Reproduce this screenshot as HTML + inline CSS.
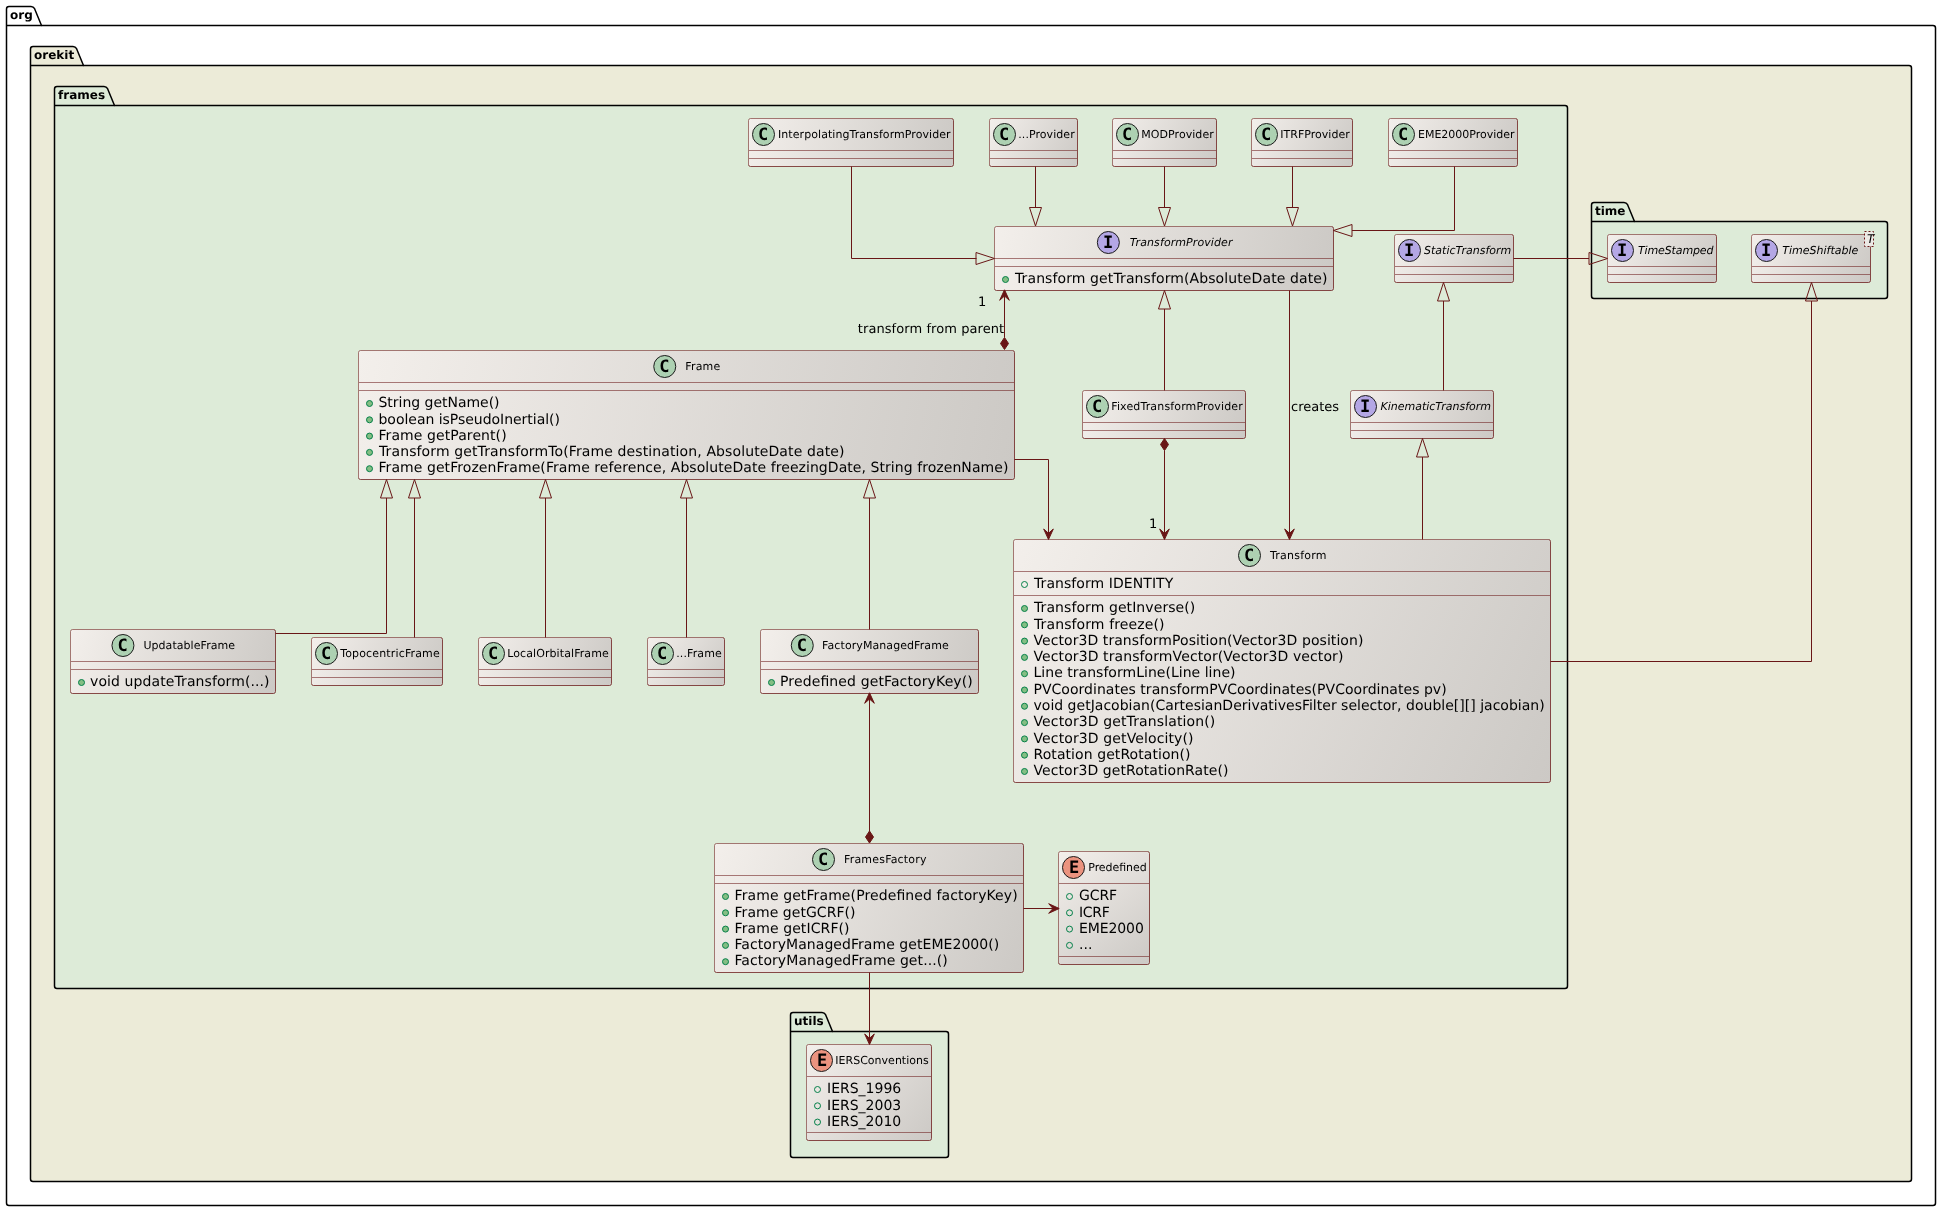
<!DOCTYPE html>
<html lang="en"><head><meta charset="utf-8"><title>org.orekit.frames class diagram</title>
<style>html,body{margin:0;padding:0;background:#fff}body{width:1941px;height:1211px;overflow:hidden}svg{display:block;will-change:transform}</style>
</head><body>
<svg width="1941" height="1211" viewBox="0 0 1941 1211" font-family="'DejaVu Sans','Liberation Sans',sans-serif" fill="#000" text-rendering="geometricPrecision">
<defs>
<linearGradient id="g1" gradientUnits="userSpaceOnUse" x1="748.5" y1="118.5" x2="953.5" y2="166.5"><stop offset="0" stop-color="#F3EFEB"/><stop offset="1" stop-color="#CCC9C5"/></linearGradient>
<linearGradient id="g2" gradientUnits="userSpaceOnUse" x1="989.5" y1="118.5" x2="1077.5" y2="166.5"><stop offset="0" stop-color="#F3EFEB"/><stop offset="1" stop-color="#CCC9C5"/></linearGradient>
<linearGradient id="g3" gradientUnits="userSpaceOnUse" x1="1112.5" y1="118.5" x2="1216.5" y2="166.5"><stop offset="0" stop-color="#F3EFEB"/><stop offset="1" stop-color="#CCC9C5"/></linearGradient>
<linearGradient id="g4" gradientUnits="userSpaceOnUse" x1="1251.5" y1="118.5" x2="1352.5" y2="166.5"><stop offset="0" stop-color="#F3EFEB"/><stop offset="1" stop-color="#CCC9C5"/></linearGradient>
<linearGradient id="g5" gradientUnits="userSpaceOnUse" x1="1388.5" y1="118.5" x2="1517.5" y2="166.5"><stop offset="0" stop-color="#F3EFEB"/><stop offset="1" stop-color="#CCC9C5"/></linearGradient>
<linearGradient id="g6" gradientUnits="userSpaceOnUse" x1="994.5" y1="226.5" x2="1333.5" y2="290.5"><stop offset="0" stop-color="#F3EFEB"/><stop offset="1" stop-color="#CCC9C5"/></linearGradient>
<linearGradient id="g7" gradientUnits="userSpaceOnUse" x1="1394.5" y1="234.5" x2="1513.5" y2="282.5"><stop offset="0" stop-color="#F3EFEB"/><stop offset="1" stop-color="#CCC9C5"/></linearGradient>
<linearGradient id="g8" gradientUnits="userSpaceOnUse" x1="1607.5" y1="234.5" x2="1716.5" y2="282.5"><stop offset="0" stop-color="#F3EFEB"/><stop offset="1" stop-color="#CCC9C5"/></linearGradient>
<linearGradient id="g9" gradientUnits="userSpaceOnUse" x1="1751.5" y1="234.5" x2="1870.5" y2="282.5"><stop offset="0" stop-color="#F3EFEB"/><stop offset="1" stop-color="#CCC9C5"/></linearGradient>
<linearGradient id="g10" gradientUnits="userSpaceOnUse" x1="1082.5" y1="390.5" x2="1245.5" y2="438.5"><stop offset="0" stop-color="#F3EFEB"/><stop offset="1" stop-color="#CCC9C5"/></linearGradient>
<linearGradient id="g11" gradientUnits="userSpaceOnUse" x1="1350.5" y1="390.5" x2="1493.5" y2="438.5"><stop offset="0" stop-color="#F3EFEB"/><stop offset="1" stop-color="#CCC9C5"/></linearGradient>
<linearGradient id="g12" gradientUnits="userSpaceOnUse" x1="358.5" y1="350.5" x2="1014.5" y2="479.5"><stop offset="0" stop-color="#F3EFEB"/><stop offset="1" stop-color="#CCC9C5"/></linearGradient>
<linearGradient id="g13" gradientUnits="userSpaceOnUse" x1="1013.5" y1="539.5" x2="1550.5" y2="782.5"><stop offset="0" stop-color="#F3EFEB"/><stop offset="1" stop-color="#CCC9C5"/></linearGradient>
<linearGradient id="g14" gradientUnits="userSpaceOnUse" x1="70.5" y1="629.5" x2="275.5" y2="693.5"><stop offset="0" stop-color="#F3EFEB"/><stop offset="1" stop-color="#CCC9C5"/></linearGradient>
<linearGradient id="g15" gradientUnits="userSpaceOnUse" x1="311.5" y1="637.5" x2="442.5" y2="685.5"><stop offset="0" stop-color="#F3EFEB"/><stop offset="1" stop-color="#CCC9C5"/></linearGradient>
<linearGradient id="g16" gradientUnits="userSpaceOnUse" x1="478.5" y1="637.5" x2="611.5" y2="685.5"><stop offset="0" stop-color="#F3EFEB"/><stop offset="1" stop-color="#CCC9C5"/></linearGradient>
<linearGradient id="g17" gradientUnits="userSpaceOnUse" x1="647.5" y1="637.5" x2="724.5" y2="685.5"><stop offset="0" stop-color="#F3EFEB"/><stop offset="1" stop-color="#CCC9C5"/></linearGradient>
<linearGradient id="g18" gradientUnits="userSpaceOnUse" x1="760.5" y1="629.5" x2="978.5" y2="693.5"><stop offset="0" stop-color="#F3EFEB"/><stop offset="1" stop-color="#CCC9C5"/></linearGradient>
<linearGradient id="g19" gradientUnits="userSpaceOnUse" x1="714.5" y1="843.5" x2="1023.5" y2="972.5"><stop offset="0" stop-color="#F3EFEB"/><stop offset="1" stop-color="#CCC9C5"/></linearGradient>
<linearGradient id="g20" gradientUnits="userSpaceOnUse" x1="1058.5" y1="851.5" x2="1149.5" y2="964.5"><stop offset="0" stop-color="#F3EFEB"/><stop offset="1" stop-color="#CCC9C5"/></linearGradient>
<linearGradient id="g21" gradientUnits="userSpaceOnUse" x1="806.5" y1="1044.5" x2="931.5" y2="1140.5"><stop offset="0" stop-color="#F3EFEB"/><stop offset="1" stop-color="#CCC9C5"/></linearGradient>
</defs>
<rect width="1941" height="1211" fill="#fff"/>
<path d="M6.5,9.0 Q6.5,6.5 9.0,6.5 L31.0,6.5 Q33.4,6.5 34.6,8.7 L41.5,25.5 L1933.0,25.5 Q1935.5,25.5 1935.5,28.0 L1935.5,1203.0 Q1935.5,1205.5 1933.0,1205.5 L9.0,1205.5 Q6.5,1205.5 6.5,1203.0 Z" fill="#FFFFFF" stroke="#000" stroke-width="1.5"/>
<path d="M6.5,25.5 L41.5,25.5" stroke="#000" stroke-width="1.5" fill="none"/>
<text x="10.0" y="19.0" font-size="12" font-weight="bold">org</text>
<path d="M30.5,49.0 Q30.5,46.5 33.0,46.5 L73.0,46.5 Q75.4,46.5 76.6,48.7 L83.5,65.5 L1909.0,65.5 Q1911.5,65.5 1911.5,68.0 L1911.5,1179.0 Q1911.5,1181.5 1909.0,1181.5 L33.0,1181.5 Q30.5,1181.5 30.5,1179.0 Z" fill="#ECEBD8" stroke="#000" stroke-width="1.5"/>
<path d="M30.5,65.5 L83.5,65.5" stroke="#000" stroke-width="1.5" fill="none"/>
<text x="34.0" y="59.0" font-size="12" font-weight="bold">orekit</text>
<path d="M54.5,89.0 Q54.5,86.5 57.0,86.5 L104.0,86.5 Q106.4,86.5 107.6,88.7 L114.5,105.5 L1565.0,105.5 Q1567.5,105.5 1567.5,108.0 L1567.5,986.0 Q1567.5,988.5 1565.0,988.5 L57.0,988.5 Q54.5,988.5 54.5,986.0 Z" fill="#DDEBD8" stroke="#000" stroke-width="1.5"/>
<path d="M54.5,105.5 L114.5,105.5" stroke="#000" stroke-width="1.5" fill="none"/>
<text x="58.0" y="99.0" font-size="12" font-weight="bold">frames</text>
<path d="M1591.5,205.0 Q1591.5,202.5 1594.0,202.5 L1624.0,202.5 Q1626.4,202.5 1627.6,204.7 L1634.5,221.5 L1885.0,221.5 Q1887.5,221.5 1887.5,224.0 L1887.5,296.0 Q1887.5,298.5 1885.0,298.5 L1594.0,298.5 Q1591.5,298.5 1591.5,296.0 Z" fill="#DDEBD8" stroke="#000" stroke-width="1.5"/>
<path d="M1591.5,221.5 L1634.5,221.5" stroke="#000" stroke-width="1.5" fill="none"/>
<text x="1595.0" y="215.0" font-size="12" font-weight="bold">time</text>
<path d="M790.5,1015.0 Q790.5,1012.5 793.0,1012.5 L822.0,1012.5 Q824.4,1012.5 825.6,1014.7 L832.5,1031.5 L946.0,1031.5 Q948.5,1031.5 948.5,1034.0 L948.5,1155.0 Q948.5,1157.5 946.0,1157.5 L793.0,1157.5 Q790.5,1157.5 790.5,1155.0 Z" fill="#DDEBD8" stroke="#000" stroke-width="1.5"/>
<path d="M790.5,1031.5 L832.5,1031.5" stroke="#000" stroke-width="1.5" fill="none"/>
<text x="794.0" y="1025.0" font-size="12" font-weight="bold">utils</text>
<rect x="748.5" y="118.5" width="205" height="48" rx="2" ry="2" fill="url(#g1)"/>
<path d="M748.5,164.5V120.5Q748.5,118.5 750.5,118.5H951.5" fill="none" stroke="#691616" stroke-opacity="0.55"/>
<path d="M951.5,118.5Q953.5,118.5 953.5,120.5V164.5Q953.5,166.5 951.5,166.5H750.5Q748.5,166.5 748.5,164.5" fill="none" stroke="#691616" stroke-opacity="0.76"/>
<path d="M749.0,150.5H953.0" stroke="#691616" stroke-opacity="0.55"/>
<path d="M749.0,158.5H953.0" stroke="#691616" stroke-opacity="0.55"/>
<circle cx="763.5" cy="134.5" r="11" fill="#ADD1B2" stroke="#1b1b1b"/>
<text x="763.2" y="140.1" font-family="DejaVu Sans Mono,Liberation Mono,monospace" font-weight="bold" font-size="17" text-anchor="middle">C</text>
<text x="778.0" y="138.0" font-size="11" textLength="172.6" lengthAdjust="spacing">InterpolatingTransformProvider</text>
<rect x="989.5" y="118.5" width="88" height="48" rx="2" ry="2" fill="url(#g2)"/>
<path d="M989.5,164.5V120.5Q989.5,118.5 991.5,118.5H1075.5" fill="none" stroke="#691616" stroke-opacity="0.55"/>
<path d="M1075.5,118.5Q1077.5,118.5 1077.5,120.5V164.5Q1077.5,166.5 1075.5,166.5H991.5Q989.5,166.5 989.5,164.5" fill="none" stroke="#691616" stroke-opacity="0.76"/>
<path d="M990.0,150.5H1077.0" stroke="#691616" stroke-opacity="0.55"/>
<path d="M990.0,158.5H1077.0" stroke="#691616" stroke-opacity="0.55"/>
<circle cx="1004.5" cy="134.5" r="11" fill="#ADD1B2" stroke="#1b1b1b"/>
<text x="1004.2" y="140.1" font-family="DejaVu Sans Mono,Liberation Mono,monospace" font-weight="bold" font-size="17" text-anchor="middle">C</text>
<text x="1018.25" y="138.0" font-size="11" textLength="56.5" lengthAdjust="spacing">...Provider</text>
<rect x="1112.5" y="118.5" width="104" height="48" rx="2" ry="2" fill="url(#g3)"/>
<path d="M1112.5,164.5V120.5Q1112.5,118.5 1114.5,118.5H1214.5" fill="none" stroke="#691616" stroke-opacity="0.55"/>
<path d="M1214.5,118.5Q1216.5,118.5 1216.5,120.5V164.5Q1216.5,166.5 1214.5,166.5H1114.5Q1112.5,166.5 1112.5,164.5" fill="none" stroke="#691616" stroke-opacity="0.76"/>
<path d="M1113.0,150.5H1216.0" stroke="#691616" stroke-opacity="0.55"/>
<path d="M1113.0,158.5H1216.0" stroke="#691616" stroke-opacity="0.55"/>
<circle cx="1127.5" cy="134.5" r="11" fill="#ADD1B2" stroke="#1b1b1b"/>
<text x="1127.2" y="140.1" font-family="DejaVu Sans Mono,Liberation Mono,monospace" font-weight="bold" font-size="17" text-anchor="middle">C</text>
<text x="1141.25" y="138.0" font-size="11" textLength="72.5" lengthAdjust="spacing">MODProvider</text>
<rect x="1251.5" y="118.5" width="101" height="48" rx="2" ry="2" fill="url(#g4)"/>
<path d="M1251.5,164.5V120.5Q1251.5,118.5 1253.5,118.5H1350.5" fill="none" stroke="#691616" stroke-opacity="0.55"/>
<path d="M1350.5,118.5Q1352.5,118.5 1352.5,120.5V164.5Q1352.5,166.5 1350.5,166.5H1253.5Q1251.5,166.5 1251.5,164.5" fill="none" stroke="#691616" stroke-opacity="0.76"/>
<path d="M1252.0,150.5H1352.0" stroke="#691616" stroke-opacity="0.55"/>
<path d="M1252.0,158.5H1352.0" stroke="#691616" stroke-opacity="0.55"/>
<circle cx="1266.5" cy="134.5" r="11" fill="#ADD1B2" stroke="#1b1b1b"/>
<text x="1266.2" y="140.1" font-family="DejaVu Sans Mono,Liberation Mono,monospace" font-weight="bold" font-size="17" text-anchor="middle">C</text>
<text x="1280.25" y="138.0" font-size="11" textLength="69.5" lengthAdjust="spacing">ITRFProvider</text>
<rect x="1388.5" y="118.5" width="129" height="48" rx="2" ry="2" fill="url(#g5)"/>
<path d="M1388.5,164.5V120.5Q1388.5,118.5 1390.5,118.5H1515.5" fill="none" stroke="#691616" stroke-opacity="0.55"/>
<path d="M1515.5,118.5Q1517.5,118.5 1517.5,120.5V164.5Q1517.5,166.5 1515.5,166.5H1390.5Q1388.5,166.5 1388.5,164.5" fill="none" stroke="#691616" stroke-opacity="0.76"/>
<path d="M1389.0,150.5H1517.0" stroke="#691616" stroke-opacity="0.55"/>
<path d="M1389.0,158.5H1517.0" stroke="#691616" stroke-opacity="0.55"/>
<circle cx="1403.5" cy="134.5" r="11" fill="#ADD1B2" stroke="#1b1b1b"/>
<text x="1403.2" y="140.1" font-family="DejaVu Sans Mono,Liberation Mono,monospace" font-weight="bold" font-size="17" text-anchor="middle">C</text>
<text x="1418.0" y="138.0" font-size="11" textLength="96.5" lengthAdjust="spacing">EME2000Provider</text>
<rect x="994.5" y="226.5" width="339" height="64" rx="2" ry="2" fill="url(#g6)"/>
<path d="M994.5,288.5V228.5Q994.5,226.5 996.5,226.5H1331.5" fill="none" stroke="#691616" stroke-opacity="0.55"/>
<path d="M1331.5,226.5Q1333.5,226.5 1333.5,228.5V288.5Q1333.5,290.5 1331.5,290.5H996.5Q994.5,290.5 994.5,288.5" fill="none" stroke="#691616" stroke-opacity="0.76"/>
<path d="M995.0,258.5H1333.0" stroke="#691616" stroke-opacity="0.55"/>
<path d="M995.0,266.5H1333.0" stroke="#691616" stroke-opacity="0.55"/>
<circle cx="1108.35" cy="242.5" r="11" fill="#B4A7E5" stroke="#1b1b1b"/>
<text x="1108.05" y="248.1" font-family="DejaVu Sans Mono,Liberation Mono,monospace" font-weight="bold" font-size="17" text-anchor="middle">I</text>
<text x="1129.6499999999999" y="246.0" font-size="11" font-style="italic" textLength="102.8" lengthAdjust="spacing">TransformProvider</text>
<circle cx="1005.5" cy="279.5" r="3" fill="#84BE84" stroke="#038048"/>
<text x="1015.0" y="283.2" font-size="14" textLength="312.46" lengthAdjust="spacing">Transform getTransform(AbsoluteDate date)</text>
<rect x="1394.5" y="234.5" width="119" height="48" rx="2" ry="2" fill="url(#g7)"/>
<path d="M1394.5,280.5V236.5Q1394.5,234.5 1396.5,234.5H1511.5" fill="none" stroke="#691616" stroke-opacity="0.55"/>
<path d="M1511.5,234.5Q1513.5,234.5 1513.5,236.5V280.5Q1513.5,282.5 1511.5,282.5H1396.5Q1394.5,282.5 1394.5,280.5" fill="none" stroke="#691616" stroke-opacity="0.76"/>
<path d="M1395.0,266.5H1513.0" stroke="#691616" stroke-opacity="0.55"/>
<path d="M1395.0,274.5H1513.0" stroke="#691616" stroke-opacity="0.55"/>
<circle cx="1409.5" cy="250.5" r="11" fill="#B4A7E5" stroke="#1b1b1b"/>
<text x="1409.2" y="256.1" font-family="DejaVu Sans Mono,Liberation Mono,monospace" font-weight="bold" font-size="17" text-anchor="middle">I</text>
<text x="1424.0" y="254.0" font-size="11" font-style="italic" textLength="87.25" lengthAdjust="spacing">StaticTransform</text>
<rect x="1607.5" y="234.5" width="109" height="48" rx="2" ry="2" fill="url(#g8)"/>
<path d="M1607.5,280.5V236.5Q1607.5,234.5 1609.5,234.5H1714.5" fill="none" stroke="#691616" stroke-opacity="0.55"/>
<path d="M1714.5,234.5Q1716.5,234.5 1716.5,236.5V280.5Q1716.5,282.5 1714.5,282.5H1609.5Q1607.5,282.5 1607.5,280.5" fill="none" stroke="#691616" stroke-opacity="0.76"/>
<path d="M1608.0,266.5H1716.0" stroke="#691616" stroke-opacity="0.55"/>
<path d="M1608.0,274.5H1716.0" stroke="#691616" stroke-opacity="0.55"/>
<circle cx="1622.5" cy="250.5" r="11" fill="#B4A7E5" stroke="#1b1b1b"/>
<text x="1622.2" y="256.1" font-family="DejaVu Sans Mono,Liberation Mono,monospace" font-weight="bold" font-size="17" text-anchor="middle">I</text>
<text x="1638.0" y="254.0" font-size="11" font-style="italic" textLength="75.5" lengthAdjust="spacing">TimeStamped</text>
<rect x="1751.5" y="234.5" width="119" height="48" rx="2" ry="2" fill="url(#g9)"/>
<path d="M1751.5,280.5V236.5Q1751.5,234.5 1753.5,234.5H1868.5" fill="none" stroke="#691616" stroke-opacity="0.55"/>
<path d="M1868.5,234.5Q1870.5,234.5 1870.5,236.5V280.5Q1870.5,282.5 1868.5,282.5H1753.5Q1751.5,282.5 1751.5,280.5" fill="none" stroke="#691616" stroke-opacity="0.76"/>
<path d="M1752.0,266.5H1870.0" stroke="#691616" stroke-opacity="0.55"/>
<path d="M1752.0,274.5H1870.0" stroke="#691616" stroke-opacity="0.55"/>
<circle cx="1766.5" cy="250.5" r="11" fill="#B4A7E5" stroke="#1b1b1b"/>
<text x="1766.2" y="256.1" font-family="DejaVu Sans Mono,Liberation Mono,monospace" font-weight="bold" font-size="17" text-anchor="middle">I</text>
<text x="1782.3" y="254.0" font-size="11" font-style="italic">TimeShiftable</text>
<rect x="1864.5" y="231.5" width="9" height="15" fill="#ECE9E5" stroke="#691616" stroke-dasharray="2,2"/>
<text x="1867.0" y="243.0" font-size="12" font-style="italic">T</text>
<rect x="1082.5" y="390.5" width="163" height="48" rx="2" ry="2" fill="url(#g10)"/>
<path d="M1082.5,436.5V392.5Q1082.5,390.5 1084.5,390.5H1243.5" fill="none" stroke="#691616" stroke-opacity="0.55"/>
<path d="M1243.5,390.5Q1245.5,390.5 1245.5,392.5V436.5Q1245.5,438.5 1243.5,438.5H1084.5Q1082.5,438.5 1082.5,436.5" fill="none" stroke="#691616" stroke-opacity="0.76"/>
<path d="M1083.0,422.5H1245.0" stroke="#691616" stroke-opacity="0.55"/>
<path d="M1083.0,430.5H1245.0" stroke="#691616" stroke-opacity="0.55"/>
<circle cx="1097.5" cy="406.5" r="11" fill="#ADD1B2" stroke="#1b1b1b"/>
<text x="1097.2" y="412.1" font-family="DejaVu Sans Mono,Liberation Mono,monospace" font-weight="bold" font-size="17" text-anchor="middle">C</text>
<text x="1111.25" y="410.0" font-size="11" textLength="131.5" lengthAdjust="spacing">FixedTransformProvider</text>
<rect x="1350.5" y="390.5" width="143" height="48" rx="2" ry="2" fill="url(#g11)"/>
<path d="M1350.5,436.5V392.5Q1350.5,390.5 1352.5,390.5H1491.5" fill="none" stroke="#691616" stroke-opacity="0.55"/>
<path d="M1491.5,390.5Q1493.5,390.5 1493.5,392.5V436.5Q1493.5,438.5 1491.5,438.5H1352.5Q1350.5,438.5 1350.5,436.5" fill="none" stroke="#691616" stroke-opacity="0.76"/>
<path d="M1351.0,422.5H1493.0" stroke="#691616" stroke-opacity="0.55"/>
<path d="M1351.0,430.5H1493.0" stroke="#691616" stroke-opacity="0.55"/>
<circle cx="1365.5" cy="406.5" r="11" fill="#B4A7E5" stroke="#1b1b1b"/>
<text x="1365.2" y="412.1" font-family="DejaVu Sans Mono,Liberation Mono,monospace" font-weight="bold" font-size="17" text-anchor="middle">I</text>
<text x="1380.5" y="410.0" font-size="11" font-style="italic" textLength="110.5" lengthAdjust="spacing">KinematicTransform</text>
<rect x="358.5" y="350.5" width="656" height="129" rx="2" ry="2" fill="url(#g12)"/>
<path d="M358.5,477.5V352.5Q358.5,350.5 360.5,350.5H1012.5" fill="none" stroke="#691616" stroke-opacity="0.55"/>
<path d="M1012.5,350.5Q1014.5,350.5 1014.5,352.5V477.5Q1014.5,479.5 1012.5,479.5H360.5Q358.5,479.5 358.5,477.5" fill="none" stroke="#691616" stroke-opacity="0.76"/>
<path d="M359.0,382.5H1014.0" stroke="#691616" stroke-opacity="0.55"/>
<path d="M359.0,390.5H1014.0" stroke="#691616" stroke-opacity="0.55"/>
<circle cx="664.75" cy="366.5" r="11" fill="#ADD1B2" stroke="#1b1b1b"/>
<text x="664.45" y="372.1" font-family="DejaVu Sans Mono,Liberation Mono,monospace" font-weight="bold" font-size="17" text-anchor="middle">C</text>
<text x="685.25" y="370.0" font-size="11" textLength="35" lengthAdjust="spacing">Frame</text>
<circle cx="369.5" cy="403.5" r="3" fill="#84BE84" stroke="#038048"/>
<text x="378.5" y="407.2" font-size="14" textLength="121.05" lengthAdjust="spacing">String getName()</text>
<circle cx="369.5" cy="419.8" r="3" fill="#84BE84" stroke="#038048"/>
<text x="378.5" y="423.5" font-size="14" textLength="181.48" lengthAdjust="spacing">boolean isPseudoInertial()</text>
<circle cx="369.5" cy="436.09" r="3" fill="#84BE84" stroke="#038048"/>
<text x="378.5" y="439.79" font-size="14" textLength="128.11" lengthAdjust="spacing">Frame getParent()</text>
<circle cx="369.5" cy="452.39" r="3" fill="#84BE84" stroke="#038048"/>
<text x="379.0" y="456.09" font-size="14" textLength="465.47" lengthAdjust="spacing">Transform getTransformTo(Frame destination, AbsoluteDate date)</text>
<circle cx="369.5" cy="468.69" r="3" fill="#84BE84" stroke="#038048"/>
<text x="378.5" y="472.39" font-size="14" textLength="629.9" lengthAdjust="spacing">Frame getFrozenFrame(Frame reference, AbsoluteDate freezingDate, String frozenName)</text>
<rect x="1013.5" y="539.5" width="537" height="243" rx="2" ry="2" fill="url(#g13)"/>
<path d="M1013.5,780.5V541.5Q1013.5,539.5 1015.5,539.5H1548.5" fill="none" stroke="#691616" stroke-opacity="0.55"/>
<path d="M1548.5,539.5Q1550.5,539.5 1550.5,541.5V780.5Q1550.5,782.5 1548.5,782.5H1015.5Q1013.5,782.5 1013.5,780.5" fill="none" stroke="#691616" stroke-opacity="0.76"/>
<path d="M1014.0,571.5H1550.0" stroke="#691616" stroke-opacity="0.55"/>
<path d="M1014.0,595.5H1550.0" stroke="#691616" stroke-opacity="0.55"/>
<circle cx="1249.5" cy="555.5" r="11" fill="#ADD1B2" stroke="#1b1b1b"/>
<text x="1249.2" y="561.1" font-family="DejaVu Sans Mono,Liberation Mono,monospace" font-weight="bold" font-size="17" text-anchor="middle">C</text>
<text x="1270.0" y="559.0" font-size="11" textLength="56.5" lengthAdjust="spacing">Transform</text>
<circle cx="1024.5" cy="584.5" r="3" fill="none" stroke="#038048"/>
<text x="1034.0" y="588.2" font-size="14" textLength="139.3" lengthAdjust="spacing">Transform IDENTITY</text>
<circle cx="1024.5" cy="608.5" r="3" fill="#84BE84" stroke="#038048"/>
<text x="1034.0" y="612.2" font-size="14" textLength="161.32" lengthAdjust="spacing">Transform getInverse()</text>
<circle cx="1024.5" cy="624.8" r="3" fill="#84BE84" stroke="#038048"/>
<text x="1034.0" y="628.5" font-size="14" textLength="130.43" lengthAdjust="spacing">Transform freeze()</text>
<circle cx="1024.5" cy="641.09" r="3" fill="#84BE84" stroke="#038048"/>
<text x="1033.5" y="644.79" font-size="14" textLength="329.87" lengthAdjust="spacing">Vector3D transformPosition(Vector3D position)</text>
<circle cx="1024.5" cy="657.39" r="3" fill="#84BE84" stroke="#038048"/>
<text x="1033.5" y="661.09" font-size="14" textLength="309.93" lengthAdjust="spacing">Vector3D transformVector(Vector3D vector)</text>
<circle cx="1024.5" cy="673.69" r="3" fill="#84BE84" stroke="#038048"/>
<text x="1033.5" y="677.39" font-size="14" textLength="202.0" lengthAdjust="spacing">Line transformLine(Line line)</text>
<circle cx="1024.5" cy="689.99" r="3" fill="#84BE84" stroke="#038048"/>
<text x="1033.5" y="693.69" font-size="14" textLength="413.12" lengthAdjust="spacing">PVCoordinates transformPVCoordinates(PVCoordinates pv)</text>
<circle cx="1024.5" cy="706.28" r="3" fill="#84BE84" stroke="#038048"/>
<text x="1033.5" y="709.98" font-size="14" textLength="511.14" lengthAdjust="spacing">void getJacobian(CartesianDerivativesFilter selector, double[][] jacobian)</text>
<circle cx="1024.5" cy="722.58" r="3" fill="#84BE84" stroke="#038048"/>
<text x="1033.5" y="726.28" font-size="14" textLength="181.7" lengthAdjust="spacing">Vector3D getTranslation()</text>
<circle cx="1024.5" cy="738.88" r="3" fill="#84BE84" stroke="#038048"/>
<text x="1033.5" y="742.58" font-size="14" textLength="160.03" lengthAdjust="spacing">Vector3D getVelocity()</text>
<circle cx="1024.5" cy="755.17" r="3" fill="#84BE84" stroke="#038048"/>
<text x="1033.5" y="758.87" font-size="14" textLength="157.07" lengthAdjust="spacing">Rotation getRotation()</text>
<circle cx="1024.5" cy="771.47" r="3" fill="#84BE84" stroke="#038048"/>
<text x="1033.5" y="775.17" font-size="14" textLength="194.92" lengthAdjust="spacing">Vector3D getRotationRate()</text>
<rect x="70.5" y="629.5" width="205" height="64" rx="2" ry="2" fill="url(#g14)"/>
<path d="M70.5,691.5V631.5Q70.5,629.5 72.5,629.5H273.5" fill="none" stroke="#691616" stroke-opacity="0.55"/>
<path d="M273.5,629.5Q275.5,629.5 275.5,631.5V691.5Q275.5,693.5 273.5,693.5H72.5Q70.5,693.5 70.5,691.5" fill="none" stroke="#691616" stroke-opacity="0.76"/>
<path d="M71.0,661.5H275.0" stroke="#691616" stroke-opacity="0.55"/>
<path d="M71.0,669.5H275.0" stroke="#691616" stroke-opacity="0.55"/>
<circle cx="122.95" cy="645.5" r="11" fill="#ADD1B2" stroke="#1b1b1b"/>
<text x="122.65" y="651.1" font-family="DejaVu Sans Mono,Liberation Mono,monospace" font-weight="bold" font-size="17" text-anchor="middle">C</text>
<text x="143.45" y="649.0" font-size="11" textLength="91.6" lengthAdjust="spacing">UpdatableFrame</text>
<circle cx="81.5" cy="682.5" r="3" fill="#84BE84" stroke="#038048"/>
<text x="90.0" y="686.2" font-size="14" textLength="179.57" lengthAdjust="spacing">void updateTransform(...)</text>
<rect x="311.5" y="637.5" width="131" height="48" rx="2" ry="2" fill="url(#g15)"/>
<path d="M311.5,683.5V639.5Q311.5,637.5 313.5,637.5H440.5" fill="none" stroke="#691616" stroke-opacity="0.55"/>
<path d="M440.5,637.5Q442.5,637.5 442.5,639.5V683.5Q442.5,685.5 440.5,685.5H313.5Q311.5,685.5 311.5,683.5" fill="none" stroke="#691616" stroke-opacity="0.76"/>
<path d="M312.0,669.5H442.0" stroke="#691616" stroke-opacity="0.55"/>
<path d="M312.0,677.5H442.0" stroke="#691616" stroke-opacity="0.55"/>
<circle cx="326.5" cy="653.5" r="11" fill="#ADD1B2" stroke="#1b1b1b"/>
<text x="326.2" y="659.1" font-family="DejaVu Sans Mono,Liberation Mono,monospace" font-weight="bold" font-size="17" text-anchor="middle">C</text>
<text x="340.25" y="657.0" font-size="11" textLength="99.5" lengthAdjust="spacing">TopocentricFrame</text>
<rect x="478.5" y="637.5" width="133" height="48" rx="2" ry="2" fill="url(#g16)"/>
<path d="M478.5,683.5V639.5Q478.5,637.5 480.5,637.5H609.5" fill="none" stroke="#691616" stroke-opacity="0.55"/>
<path d="M609.5,637.5Q611.5,637.5 611.5,639.5V683.5Q611.5,685.5 609.5,685.5H480.5Q478.5,685.5 478.5,683.5" fill="none" stroke="#691616" stroke-opacity="0.76"/>
<path d="M479.0,669.5H611.0" stroke="#691616" stroke-opacity="0.55"/>
<path d="M479.0,677.5H611.0" stroke="#691616" stroke-opacity="0.55"/>
<circle cx="493.5" cy="653.5" r="11" fill="#ADD1B2" stroke="#1b1b1b"/>
<text x="493.2" y="659.1" font-family="DejaVu Sans Mono,Liberation Mono,monospace" font-weight="bold" font-size="17" text-anchor="middle">C</text>
<text x="507.25" y="657.0" font-size="11" textLength="101.5" lengthAdjust="spacing">LocalOrbitalFrame</text>
<rect x="647.5" y="637.5" width="77" height="48" rx="2" ry="2" fill="url(#g17)"/>
<path d="M647.5,683.5V639.5Q647.5,637.5 649.5,637.5H722.5" fill="none" stroke="#691616" stroke-opacity="0.55"/>
<path d="M722.5,637.5Q724.5,637.5 724.5,639.5V683.5Q724.5,685.5 722.5,685.5H649.5Q647.5,685.5 647.5,683.5" fill="none" stroke="#691616" stroke-opacity="0.76"/>
<path d="M648.0,669.5H724.0" stroke="#691616" stroke-opacity="0.55"/>
<path d="M648.0,677.5H724.0" stroke="#691616" stroke-opacity="0.55"/>
<circle cx="662.5" cy="653.5" r="11" fill="#ADD1B2" stroke="#1b1b1b"/>
<text x="662.2" y="659.1" font-family="DejaVu Sans Mono,Liberation Mono,monospace" font-weight="bold" font-size="17" text-anchor="middle">C</text>
<text x="676.25" y="657.0" font-size="11" textLength="45.5" lengthAdjust="spacing">...Frame</text>
<rect x="760.5" y="629.5" width="218" height="64" rx="2" ry="2" fill="url(#g18)"/>
<path d="M760.5,691.5V631.5Q760.5,629.5 762.5,629.5H976.5" fill="none" stroke="#691616" stroke-opacity="0.55"/>
<path d="M976.5,629.5Q978.5,629.5 978.5,631.5V691.5Q978.5,693.5 976.5,693.5H762.5Q760.5,693.5 760.5,691.5" fill="none" stroke="#691616" stroke-opacity="0.76"/>
<path d="M761.0,661.5H978.0" stroke="#691616" stroke-opacity="0.55"/>
<path d="M761.0,669.5H978.0" stroke="#691616" stroke-opacity="0.55"/>
<circle cx="802.28" cy="645.5" r="11" fill="#ADD1B2" stroke="#1b1b1b"/>
<text x="801.98" y="651.1" font-family="DejaVu Sans Mono,Liberation Mono,monospace" font-weight="bold" font-size="17" text-anchor="middle">C</text>
<text x="822.12" y="649.0" font-size="11" textLength="126.6" lengthAdjust="spacing">FactoryManagedFrame</text>
<circle cx="771.5" cy="682.5" r="3" fill="#84BE84" stroke="#038048"/>
<text x="780.0" y="686.2" font-size="14" textLength="192.84" lengthAdjust="spacing">Predefined getFactoryKey()</text>
<rect x="714.5" y="843.5" width="309" height="129" rx="2" ry="2" fill="url(#g19)"/>
<path d="M714.5,970.5V845.5Q714.5,843.5 716.5,843.5H1021.5" fill="none" stroke="#691616" stroke-opacity="0.55"/>
<path d="M1021.5,843.5Q1023.5,843.5 1023.5,845.5V970.5Q1023.5,972.5 1021.5,972.5H716.5Q714.5,972.5 714.5,970.5" fill="none" stroke="#691616" stroke-opacity="0.76"/>
<path d="M715.0,875.5H1023.0" stroke="#691616" stroke-opacity="0.55"/>
<path d="M715.0,883.5H1023.0" stroke="#691616" stroke-opacity="0.55"/>
<circle cx="823.5" cy="859.5" r="11" fill="#ADD1B2" stroke="#1b1b1b"/>
<text x="823.2" y="865.1" font-family="DejaVu Sans Mono,Liberation Mono,monospace" font-weight="bold" font-size="17" text-anchor="middle">C</text>
<text x="844.0" y="863.0" font-size="11" textLength="82.5" lengthAdjust="spacing">FramesFactory</text>
<circle cx="725.5" cy="896.5" r="3" fill="#84BE84" stroke="#038048"/>
<text x="734.5" y="900.2" font-size="14" textLength="283.19" lengthAdjust="spacing">Frame getFrame(Predefined factoryKey)</text>
<circle cx="725.5" cy="912.8" r="3" fill="#84BE84" stroke="#038048"/>
<text x="734.5" y="916.5" font-size="14" textLength="121.04" lengthAdjust="spacing">Frame getGCRF()</text>
<circle cx="725.5" cy="929.09" r="3" fill="#84BE84" stroke="#038048"/>
<text x="734.5" y="932.79" font-size="14" textLength="115.07" lengthAdjust="spacing">Frame getICRF()</text>
<circle cx="725.5" cy="945.39" r="3" fill="#84BE84" stroke="#038048"/>
<text x="734.5" y="949.09" font-size="14" textLength="264.78" lengthAdjust="spacing">FactoryManagedFrame getEME2000()</text>
<circle cx="725.5" cy="961.69" r="3" fill="#84BE84" stroke="#038048"/>
<text x="734.5" y="965.39" font-size="14" textLength="213.23" lengthAdjust="spacing">FactoryManagedFrame get...()</text>
<rect x="1058.5" y="851.5" width="91" height="113" rx="2" ry="2" fill="url(#g20)"/>
<path d="M1058.5,962.5V853.5Q1058.5,851.5 1060.5,851.5H1147.5" fill="none" stroke="#691616" stroke-opacity="0.55"/>
<path d="M1147.5,851.5Q1149.5,851.5 1149.5,853.5V962.5Q1149.5,964.5 1147.5,964.5H1060.5Q1058.5,964.5 1058.5,962.5" fill="none" stroke="#691616" stroke-opacity="0.76"/>
<path d="M1059.0,883.5H1149.0" stroke="#691616" stroke-opacity="0.55"/>
<path d="M1059.0,956.5H1149.0" stroke="#691616" stroke-opacity="0.55"/>
<circle cx="1073.5" cy="867.5" r="11" fill="#EB937F" stroke="#1b1b1b"/>
<text x="1074.2" y="873.1" font-family="DejaVu Sans Mono,Liberation Mono,monospace" font-weight="bold" font-size="17" text-anchor="middle">E</text>
<text x="1088.25" y="871.0" font-size="11" textLength="58.5" lengthAdjust="spacing">Predefined</text>
<circle cx="1069.5" cy="896.5" r="3" fill="none" stroke="#038048"/>
<text x="1079.0" y="900.2" font-size="14" textLength="38.16" lengthAdjust="spacing">GCRF</text>
<circle cx="1069.5" cy="912.8" r="3" fill="none" stroke="#038048"/>
<text x="1079.0" y="916.5" font-size="14" textLength="30.69" lengthAdjust="spacing">ICRF</text>
<circle cx="1069.5" cy="929.09" r="3" fill="none" stroke="#038048"/>
<text x="1079.0" y="932.79" font-size="14" textLength="64.8" lengthAdjust="spacing">EME2000</text>
<circle cx="1069.5" cy="945.39" r="3" fill="none" stroke="#038048"/>
<text x="1079.0" y="949.09" font-size="14">...</text>
<rect x="806.5" y="1044.5" width="125" height="96" rx="2" ry="2" fill="url(#g21)"/>
<path d="M806.5,1138.5V1046.5Q806.5,1044.5 808.5,1044.5H929.5" fill="none" stroke="#691616" stroke-opacity="0.55"/>
<path d="M929.5,1044.5Q931.5,1044.5 931.5,1046.5V1138.5Q931.5,1140.5 929.5,1140.5H808.5Q806.5,1140.5 806.5,1138.5" fill="none" stroke="#691616" stroke-opacity="0.76"/>
<path d="M807.0,1076.5H931.0" stroke="#691616" stroke-opacity="0.55"/>
<path d="M807.0,1132.5H931.0" stroke="#691616" stroke-opacity="0.55"/>
<circle cx="821.5" cy="1060.5" r="11" fill="#EB937F" stroke="#1b1b1b"/>
<text x="822.2" y="1066.1" font-family="DejaVu Sans Mono,Liberation Mono,monospace" font-weight="bold" font-size="17" text-anchor="middle">E</text>
<text x="835.25" y="1064.0" font-size="11" textLength="93.5" lengthAdjust="spacing">IERSConventions</text>
<circle cx="817.5" cy="1089.5" r="3" fill="none" stroke="#038048"/>
<text x="827.0" y="1093.2" font-size="14">IERS_1996</text>
<circle cx="817.5" cy="1105.8" r="3" fill="none" stroke="#038048"/>
<text x="827.0" y="1109.5" font-size="14">IERS_2003</text>
<circle cx="817.5" cy="1122.09" r="3" fill="none" stroke="#038048"/>
<text x="827.0" y="1125.79" font-size="14">IERS_2010</text>
<path d="M851.5,166.5V258.5H976.5" fill="none" stroke="#691616"/>
<polygon points="994.5,258.5 976.0,252.5 976.0,264.5" fill="none" stroke="#691616"/>
<path d="M1035.5,166.5V207.5" fill="none" stroke="#691616"/>
<polygon points="1035.5,226 1029.5,207.5 1041.5,207.5" fill="none" stroke="#691616"/>
<path d="M1164.5,166.5V207.5" fill="none" stroke="#691616"/>
<polygon points="1164.5,226 1158.5,207.5 1170.5,207.5" fill="none" stroke="#691616"/>
<path d="M1292.5,166.5V207.5" fill="none" stroke="#691616"/>
<polygon points="1292.5,226 1286.5,207.5 1298.5,207.5" fill="none" stroke="#691616"/>
<path d="M1454.5,166.5V230.5H1352" fill="none" stroke="#691616"/>
<polygon points="1333.5,230.5 1352.0,224.5 1352.0,236.5" fill="none" stroke="#691616"/>
<polygon points="1004.5,337.5 1008.5,343.5 1004.5,349.5 1000.5,343.5" fill="#691616" stroke="#691616"/>
<path d="M1004.5,337.5V291" fill="none" stroke="#691616"/>
<polygon points="1004.5,289.8 1009.3,300.3 1004.5,296.0 999.7,300.3" fill="#691616" stroke="#691616"/>
<path d="M1164.5,390.5V309" fill="none" stroke="#691616"/>
<polygon points="1164.5,290.5 1158.5,309.0 1170.5,309.0" fill="none" stroke="#691616"/>
<path d="M1289.5,290.5V539" fill="none" stroke="#691616"/>
<polygon points="1289.5,539.5 1294.3,529.0 1289.5,533.3 1284.7,529.0" fill="#691616" stroke="#691616"/>
<path d="M1513.5,258.5H1589" fill="none" stroke="#691616"/>
<polygon points="1607.5,258.5 1589.0,252.5 1589.0,264.5" fill="none" stroke="#691616"/>
<path d="M1443.5,390.5V301" fill="none" stroke="#691616"/>
<polygon points="1443.5,282.5 1437.5,301.0 1449.5,301.0" fill="none" stroke="#691616"/>
<path d="M1422.5,539.5V457" fill="none" stroke="#691616"/>
<polygon points="1422.5,438.5 1416.5,457.0 1428.5,457.0" fill="none" stroke="#691616"/>
<path d="M1550.5,661.5H1811.5V301" fill="none" stroke="#691616"/>
<polygon points="1811.5,282.5 1805.5,301.0 1817.5,301.0" fill="none" stroke="#691616"/>
<path d="M1014.5,459.5H1048.5V539" fill="none" stroke="#691616"/>
<polygon points="1048.5,539.5 1053.3,529.0 1048.5,533.3 1043.7,529.0" fill="#691616" stroke="#691616"/>
<polygon points="1164.5,438.5 1168.5,444.5 1164.5,450.5 1160.5,444.5" fill="#691616" stroke="#691616"/>
<path d="M1164.5,450.5V539" fill="none" stroke="#691616"/>
<polygon points="1164.5,539.5 1169.3,529.0 1164.5,533.3 1159.7,529.0" fill="#691616" stroke="#691616"/>
<path d="M275.5,633.5H386.5V498" fill="none" stroke="#691616"/>
<polygon points="386.5,479.5 380.5,498.0 392.5,498.0" fill="none" stroke="#691616"/>
<path d="M414.5,637.5V498" fill="none" stroke="#691616"/>
<polygon points="414.5,479.5 408.5,498.0 420.5,498.0" fill="none" stroke="#691616"/>
<path d="M545.5,637.5V498" fill="none" stroke="#691616"/>
<polygon points="545.5,479.5 539.5,498.0 551.5,498.0" fill="none" stroke="#691616"/>
<path d="M686.5,637.5V498" fill="none" stroke="#691616"/>
<polygon points="686.5,479.5 680.5,498.0 692.5,498.0" fill="none" stroke="#691616"/>
<path d="M869.5,629.5V498" fill="none" stroke="#691616"/>
<polygon points="869.5,479.5 863.5,498.0 875.5,498.0" fill="none" stroke="#691616"/>
<polygon points="869.5,831 873.5,837 869.5,843 865.5,837" fill="#691616" stroke="#691616"/>
<path d="M869.5,831V694" fill="none" stroke="#691616"/>
<polygon points="869.5,692.8 874.3,703.3 869.5,699.0 864.7,703.3" fill="#691616" stroke="#691616"/>
<path d="M1023.5,908.5H1058" fill="none" stroke="#691616"/>
<polygon points="1059.2,908.5 1048.7,903.7 1053.0,908.5 1048.7,913.3" fill="#691616" stroke="#691616"/>
<path d="M869.5,972.5V1044" fill="none" stroke="#691616"/>
<polygon points="869.5,1044.5 874.3,1034.0 869.5,1038.3 864.7,1034.0" fill="#691616" stroke="#691616"/>
<text x="978" y="306" font-size="13">1</text>
<text x="857.8" y="333" font-size="13" textLength="146.4" lengthAdjust="spacing">transform from parent</text>
<text x="1291.1" y="411" font-size="13">creates</text>
<text x="1149.1" y="528" font-size="13">1</text>
</svg>
</body></html>
